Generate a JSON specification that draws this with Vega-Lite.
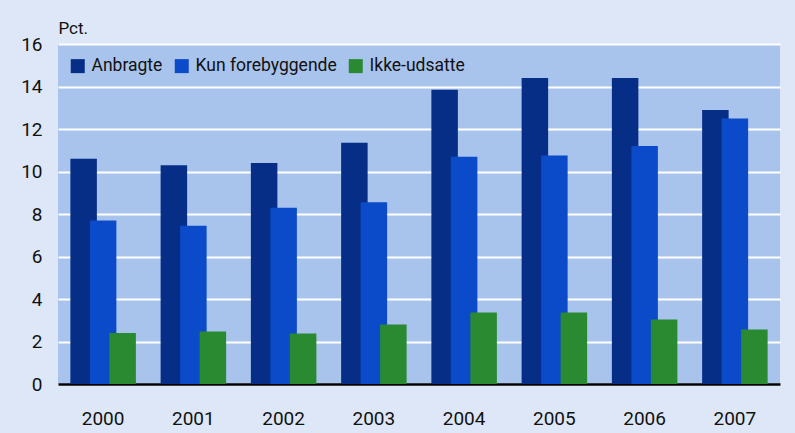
{
  "$schema": "https://vega.github.io/schema/vega-lite/v6.json",
  "width": 722,
  "height": 340,
  "autosize": "none",
  "padding": {"left": 58, "top": 44, "right": 15, "bottom": 49},
  "background": "#dde7f7",
  "config": {
    "view": {"fill": "#a8c3ec", "stroke": null},
    "font": "Roboto"
  },
  "data": {
    "values": [
      {"year": "2000", "series": "Anbragte", "value": 10.6},
      {"year": "2001", "series": "Anbragte", "value": 10.3},
      {"year": "2002", "series": "Anbragte", "value": 10.4},
      {"year": "2003", "series": "Anbragte", "value": 11.35},
      {"year": "2004", "series": "Anbragte", "value": 13.85},
      {"year": "2005", "series": "Anbragte", "value": 14.4},
      {"year": "2006", "series": "Anbragte", "value": 14.4},
      {"year": "2007", "series": "Anbragte", "value": 12.9},
      {"year": "2000", "series": "Kun forebyggende", "value": 7.7},
      {"year": "2001", "series": "Kun forebyggende", "value": 7.45},
      {"year": "2002", "series": "Kun forebyggende", "value": 8.3},
      {"year": "2003", "series": "Kun forebyggende", "value": 8.55},
      {"year": "2004", "series": "Kun forebyggende", "value": 10.7},
      {"year": "2005", "series": "Kun forebyggende", "value": 10.75},
      {"year": "2006", "series": "Kun forebyggende", "value": 11.2},
      {"year": "2007", "series": "Kun forebyggende", "value": 12.5},
      {"year": "2000", "series": "Ikke-udsatte", "value": 2.4},
      {"year": "2001", "series": "Ikke-udsatte", "value": 2.47},
      {"year": "2002", "series": "Ikke-udsatte", "value": 2.38},
      {"year": "2003", "series": "Ikke-udsatte", "value": 2.8},
      {"year": "2004", "series": "Ikke-udsatte", "value": 3.36},
      {"year": "2005", "series": "Ikke-udsatte", "value": 3.36},
      {"year": "2006", "series": "Ikke-udsatte", "value": 3.04},
      {"year": "2007", "series": "Ikke-udsatte", "value": 2.56}
    ]
  },
  "encoding": {
    "x": {
      "field": "year",
      "type": "nominal",
      "scale": {"paddingInner": 0, "paddingOuter": 0},
      "axis": {
        "title": null,
        "labelAngle": 0,
        "ticks": false,
        "domainColor": "#000000",
        "domainWidth": 2.5,
        "labelFontSize": 19,
        "labelColor": "#111111",
        "labelPadding": 25,
        "labelFont": "Roboto"
      }
    },
    "y": {
      "field": "value",
      "type": "quantitative",
      "scale": {"domain": [0, 16], "nice": false},
      "axis": {
        "title": "Pct.",
        "titleAngle": 0,
        "titleAlign": "left",
        "titleBaseline": "alphabetic",
        "titleX": 0,
        "titleY": -11,
        "titleFontSize": 17,
        "titleFontWeight": "normal",
        "titleColor": "#111111",
        "titleFont": "Roboto",
        "values": [0, 2, 4, 6, 8, 10, 12, 14, 16],
        "domain": false,
        "ticks": false,
        "gridColor": "#ffffff",
        "gridWidth": 2,
        "gridOpacity": 1,
        "labelFontSize": 19,
        "labelColor": "#111111",
        "labelPadding": 16,
        "labelFont": "Roboto"
      }
    },
    "color": {
      "field": "series",
      "type": "nominal",
      "scale": {
        "domain": ["Anbragte", "Kun forebyggende", "Ikke-udsatte"],
        "range": ["#062e86", "#0b4bc9", "#2a8a32"]
      },
      "legend": {
        "title": null,
        "orient": "none",
        "direction": "horizontal",
        "legendX": 11,
        "legendY": 13,
        "symbolType": "square",
        "symbolSize": 196,
        "symbolStrokeWidth": 0,
        "symbolOpacity": 1,
        "labelFontSize": 17.5,
        "labelColor": "#111111",
        "labelFont": "Roboto",
        "labelOffset": 5,
        "columnPadding": 10
      }
    }
  },
  "layer": [
    {
      "transform": [{"filter": "datum.series === 'Anbragte'"}],
      "mark": {"type": "bar", "width": 26.5, "xOffset": -19.5}
    },
    {
      "transform": [{"filter": "datum.series === 'Kun forebyggende'"}],
      "mark": {"type": "bar", "width": 26.5, "xOffset": 0}
    },
    {
      "transform": [{"filter": "datum.series === 'Ikke-udsatte'"}],
      "mark": {"type": "bar", "width": 26.5, "xOffset": 19.5}
    }
  ]
}
